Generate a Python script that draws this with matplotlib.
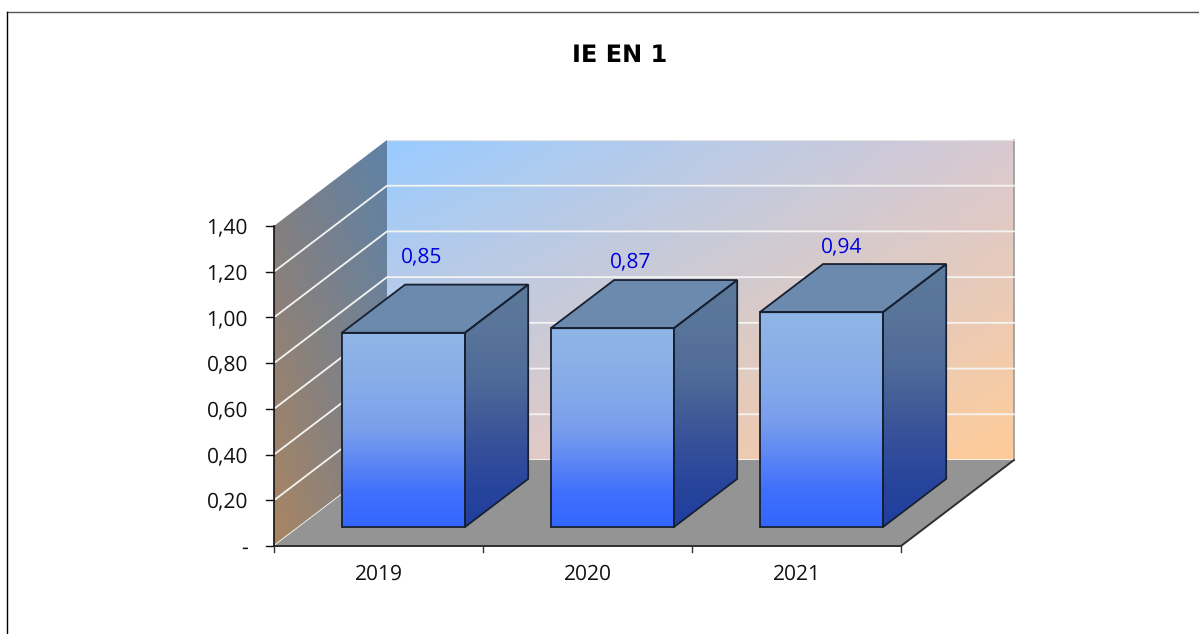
import numpy as np
import matplotlib
matplotlib.use("Agg")
import matplotlib.pyplot as plt
from matplotlib.colors import to_rgb
from matplotlib.patches import Polygon

years = ["2019", "2020", "2021"]
values = [0.85, 0.87, 0.94]
value_labels = ["0,85", "0,87", "0,94"]
y_ticks = [0.0, 0.2, 0.4, 0.6, 0.8, 1.0, 1.2, 1.4]
y_tick_labels = ["-", "0,20", "0,40", "0,60", "0,80", "1,00", "1,20", "1,40"]

W, H = 1199, 634
X0_PX, Y0_PX = 274, 546
CAT_PX = 209.0
UNIT_PX = 228.6
DX = 113.0 / CAT_PX
DY = 86.0 / UNIT_PX
YMAX = 1.4
BAR_W = 0.589
D_FRONT, D_BACK = 0.22, 0.78
FONT = "Open Sans"
FONT_SIZE = 15

plt.rcParams["text.hinting"] = "no_hinting"
plt.rcParams["text.hinting_factor"] = 1


def proj(x, y, d=0.0):
    return x + DX * d, y + DY * d


def add_image(ax, verts, img, z):
    verts = np.array(verts)
    im = ax.imshow(img, extent=(verts[:, 0].min(), verts[:, 0].max(), verts[:, 1].min(), verts[:, 1].max()),
                   origin="upper", aspect="auto", interpolation="bilinear", zorder=z)
    clip = Polygon(verts, closed=True, transform=ax.transData, fc="none", ec="none")
    ax.add_patch(clip)
    im.set_clip_path(clip)


def corner_poly(ax, verts, tl, tr, bl, br, z):
    # 4 corner colours over the bbox of the polygon
    u, v = np.meshgrid(np.linspace(0, 1, 64), np.linspace(0, 1, 64))
    u, v = u[..., None], v[..., None]
    tl, tr, bl, br = [np.array(to_rgb(c)) for c in (tl, tr, bl, br)]
    add_image(ax, verts, (1 - v) * ((1 - u) * tl + u * tr) + v * ((1 - u) * bl + u * br), z)


def ramp_poly(ax, verts, stops, z):
    # top to bottom ramp
    v = np.linspace(0, 1, 128)
    pos = np.linspace(0, 1, len(stops))
    rgb = np.array([to_rgb(c) for c in stops])
    img = np.stack([np.interp(v, pos, rgb[:, i]) for i in range(3)], axis=-1)
    add_image(ax, verts, img[:, None, :], z)


fig = plt.figure(figsize=(W / 100, H / 100), dpi=100)
ax = fig.add_axes([0, 0, 1, 1])
ax.axis("off")

# outer frame, only top and left show
ax.plot([7 / W, 1], [1 - 12 / H, 1 - 12 / H], transform=ax.transAxes, color="#555555", lw=1.0, clip_on=False)
ax.plot([7 / W, 7 / W], [0, 1 - 12 / H], transform=ax.transAxes, color="black", lw=1.0, clip_on=False)

n_cat = len(years)

# back wall
back = [proj(0, 0, 1), proj(n_cat, 0, 1), proj(n_cat, YMAX, 1), proj(0, YMAX, 1)]
corner_poly(ax, back, "#99CCFF", "#D8C9D2", "#D8C9D2", "#FFCC99", 1)
# left wall
left = [proj(0, 0, 0), proj(0, 0, 1), proj(0, YMAX, 1), proj(0, YMAX, 0)]
corner_poly(ax, left, "#7A7E88", "#5F82A6", "#AA8562", "#7F8086", 1)
ax.plot(*zip(proj(n_cat, 0, 1), proj(n_cat, YMAX, 1)), color="#9a9a9a", lw=1.2, zorder=2)
ax.plot(*zip(proj(0, YMAX, 1), proj(n_cat, YMAX, 1)), color="#e4e4e4", lw=0.8, zorder=2)

# gridlines
for t in y_ticks:
    if t >= YMAX:
        continue
    pts = [proj(0, t, 0), proj(0, t, 1), proj(n_cat, t, 1)]
    ax.plot(*zip(*pts), color="#f4f4f2", lw=1.3, zorder=3, solid_joinstyle="miter")

# floor
floor = [proj(0, 0, 0), proj(n_cat, 0, 0), proj(n_cat, 0, 1), proj(0, 0, 1)]
ax.add_patch(Polygon(floor, closed=True, fc="#949494", ec="none", zorder=4))
ax.plot(*zip(proj(0, 0, 0), proj(n_cat, 0, 0), proj(n_cat, 0, 1)), color="#2f2f2f", lw=1.4, zorder=5)

# axes and ticks
ax.plot(*zip(proj(0, 0, 0), proj(0, YMAX, 0)), color="#111111", lw=1.2, zorder=6)
for t, lab in zip(y_ticks, y_tick_labels):
    ax.plot([-8 / CAT_PX, 0], [t, t], color="#111111", lw=1.0, zorder=6)
    ax.text(-26 / CAT_PX, t - 2 / UNIT_PX, lab, ha="right", va="center", fontsize=FONT_SIZE, family=FONT, color="#111111")
for i in range(n_cat + 1):
    ax.plot([i, i], [0, -6 / UNIT_PX], color="#333333", lw=1.0, zorder=6)
for i, lab in enumerate(years):
    ax.text(i + 0.5, -28 / UNIT_PX, lab, ha="center", va="center", fontsize=FONT_SIZE, family=FONT, color="#111111")

# bars
label_dy = [28, 18, 17]
label_dx = [80, 80, 82]
edge = "#172030"
front_ramp = ["#90B5E6", "#8BB0E7", "#84A9EA", "#7A9FEC", "#5D87F4", "#3F6FFC", "#3366FF"]
side_ramp = ["#5C7A9A", "#58749A", "#4E6A98", "#3C5699", "#2A479C", "#1F3D9E"]
for i, (val, lab) in enumerate(zip(values, value_labels)):
    x1 = i + (1 - BAR_W) / 2
    x2 = x1 + BAR_W
    front = [proj(x1, 0, D_FRONT), proj(x2, 0, D_FRONT), proj(x2, val, D_FRONT), proj(x1, val, D_FRONT)]
    side = [proj(x2, 0, D_FRONT), proj(x2, 0, D_BACK), proj(x2, val, D_BACK), proj(x2, val, D_FRONT)]
    top = [proj(x1, val, D_FRONT), proj(x2, val, D_FRONT), proj(x2, val, D_BACK), proj(x1, val, D_BACK)]

    ramp_poly(ax, front, front_ramp, 7)
    ramp_poly(ax, side, side_ramp, 7)
    ax.add_patch(Polygon(top, closed=True, fc="#6C8AAE", ec="none", zorder=7))
    for poly in (front, side, top):
        ax.add_patch(Polygon(poly, closed=True, fc="none", ec=edge, lw=1.3, zorder=8, joinstyle="miter"))

    lx, _ = proj(x1, val, D_FRONT)
    _, ly = proj(x1, val, D_BACK)
    ax.text(lx + label_dx[i] / CAT_PX, ly + label_dy[i] / UNIT_PX, lab, ha="center", va="center",
            fontsize=FONT_SIZE, family=FONT, color="#0000DD", zorder=9)

ax.text((620 - X0_PX) / CAT_PX, (Y0_PX - 55) / UNIT_PX, "IE EN 1", ha="center", va="center",
        fontsize=17, fontweight="bold", family="DejaVu Sans", color="black")

ax.set_xlim(-X0_PX / CAT_PX, (W - X0_PX) / CAT_PX)
ax.set_ylim((Y0_PX - H) / UNIT_PX, Y0_PX / UNIT_PX)

fig.savefig("out.png", dpi=100)
